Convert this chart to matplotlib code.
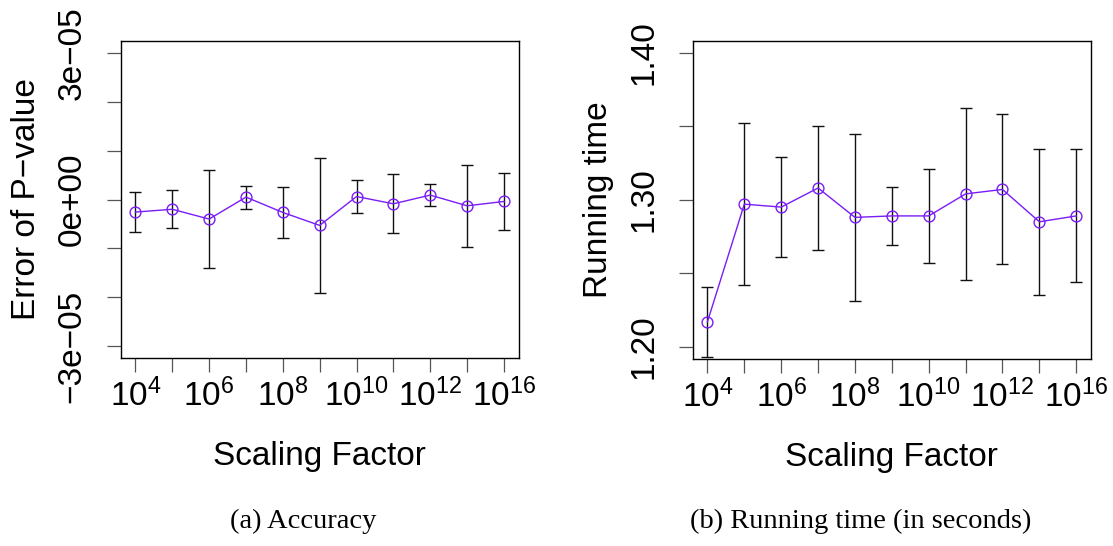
import numpy as np
import matplotlib
matplotlib.use("Agg")
import matplotlib.pyplot as plt

plt.rcParams.update({
    "font.family": ["Liberation Sans", "DejaVu Sans"],
    "mathtext.fontset": "custom",
    "mathtext.rm": "Liberation Sans",
    "mathtext.it": "Liberation Sans:italic",
    "mathtext.bf": "Liberation Sans:bold",
})

# scaling factors (only every other one is labelled on the axis)
x_labels = [r"$\mathregular{10^{4}}$", "", r"$\mathregular{10^{6}}$", "",
            r"$\mathregular{10^{8}}$", "", r"$\mathregular{10^{10}}$", "",
            r"$\mathregular{10^{12}}$", "", r"$\mathregular{10^{16}}$"]

# (a) error of the p-value, in units of 1e-05: mean and half-width of the bar
err_mean = [-0.257, -0.200, -0.400, 0.049, -0.265, -0.530, 0.061, -0.088, 0.090, -0.129, -0.040]
err_half = [0.405, 0.385, 1.010, 0.235, 0.525, 1.380, 0.333, 0.600, 0.230, 0.836, 0.580]

# (b) running time in seconds: mean and half-width of the bar
time_mean = [1.217, 1.297, 1.295, 1.308, 1.288, 1.289, 1.289, 1.304, 1.307, 1.285, 1.289]
time_half = [0.0237, 0.055, 0.034, 0.042, 0.057, 0.020, 0.032, 0.0587, 0.051, 0.0495, 0.0452]

acc_ticks = [-3e-5, -2e-5, -1e-5, 0, 1e-5, 2e-5, 3e-5]
acc_ticklabels = ["\u22123e\u221205", "", "", "0e+00", "", "", "3e\u221205"]
time_ticks = [1.20, 1.25, 1.30, 1.35, 1.40]
time_ticklabels = ["1.20", "", "1.30", "", "1.40"]

LINE = "#7a1cf6"
W, H = 1113, 546
fig = plt.figure(figsize=(W / 100, H / 100), dpi=100)


def px_axes(x0, y0, x1, y1):
    return fig.add_axes([x0 / W, 1 - y1 / H, (x1 - x0) / W, (y1 - y0) / H])


def panel(ax, mean, half, yticks, yticklabels, ylim, ylabel):
    xs = np.arange(len(mean))
    ax.errorbar(xs, mean, yerr=half, fmt="none", ecolor="#111111",
                elinewidth=1.0, capsize=4.5, capthick=1.0, zorder=2)
    ax.plot(xs, mean, color=LINE, lw=1.0, marker="o", ms=7.8, mfc="none",
            mec=LINE, mew=1.0, zorder=3)
    ax.set_xlim(-0.4, len(mean) - 1 + 0.4)
    ax.set_ylim(*ylim)
    ax.set_xticks(xs)
    ax.set_xticklabels(x_labels)
    ax.set_yticks(yticks)
    ax.set_yticklabels(yticklabels, rotation=90, va="center")
    ax.tick_params(axis="both", direction="out", length=10, width=0.9,
                   color="#555555", labelsize=24)
    ax.tick_params(axis="x", pad=5)
    ax.tick_params(axis="y", pad=14)
    for s in ax.spines.values():
        s.set_linewidth(1.0)
        s.set_color("black")
    ax.set_xlabel("Scaling Factor", fontsize=24, labelpad=20)
    ax.set_ylabel(ylabel, fontsize=24, labelpad=10)


ax1 = px_axes(120.7, 41, 518.7, 358)
panel(ax1, np.array(err_mean) * 1e-5, np.array(err_half) * 1e-5,
      acc_ticks, acc_ticklabels, (-3.24e-5, 3.24e-5), "Error of P\u2212value")

ax2 = px_axes(692.7, 41, 1091, 358.5)
panel(ax2, time_mean, time_half, time_ticks, time_ticklabels,
      (1.192, 1.408), "Running time")

cap_kw = dict(fontsize=20.5, family=["Liberation Serif", "DejaVu Serif"],
              ha="center", va="center")
fig.text(303 / W, 1 - 521 / H, "(a) Accuracy", **cap_kw)
fig.text(861 / W, 1 - 521 / H, "(b) Running time (in seconds)", **cap_kw)

fig.savefig("out.png", dpi=100)
